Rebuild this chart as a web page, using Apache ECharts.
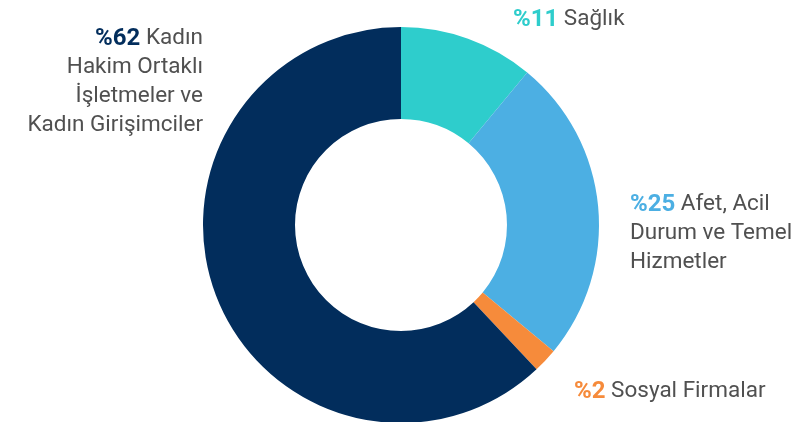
<!DOCTYPE html>
<html>
<head>
<meta charset="utf-8">
<script src="https://cdn.jsdelivr.net/npm/echarts@6/dist/echarts.min.js"></script>
<style>html,body{margin:0;padding:0;background:#fff}#c{width:810px;height:422px}</style>
</head>
<body>
<div id="c"></div>
<script>
const categories = ['Sağlık', 'Afet, Acil Durum ve Temel Hizmetler', 'Sosyal Firmalar', 'Kadın Hakim Ortaklı İşletmeler ve Kadın Girişimciler'];
const values = [11, 25, 2, 62];
const labelLines = [
  ['Sağlık'],
  ['Afet, Acil', 'Durum ve Temel', 'Hizmetler'],
  ['Sosyal Firmalar'],
  ['Kadın', 'Hakim Ortaklı', 'İşletmeler ve', 'Kadın Girişimciler']
];
const colors = ['#2ECDCC', '#4CAFE3', '#F68B3B', '#022D5C'];

// label layout (x, y, align) per slice
const labelPos = [
  {x: 513, y: 5, align: 'left'},
  {x: 630, y: 190, align: 'left'},
  {x: 574, y: 377, align: 'left'},
  {x: 203, y: 24, align: 'right'}
];

const rich = { t: {fontSize: 22.5, lineHeight: 29, color: '#505050', fontFamily: 'Roboto'} };
colors.forEach((c, i) => {
  rich['p' + i] = {fontSize: 24, lineHeight: 29, color: c, fontWeight: 'bold', fontFamily: 'Roboto'};
});

const data = categories.map((name, i) => ({
  name: name,
  value: values[i],
  itemStyle: {color: colors[i]}
}));

const chart = echarts.init(document.getElementById('c'));
chart.setOption({
  animation: false,
  series: [{
    type: 'pie',
    center: [401, 225],
    radius: [106, 198],
    startAngle: 90,
    clockwise: true,
    avoidLabelOverlap: false,
    data: data,
    labelLine: {show: false},
    label: {
      show: true,
      position: 'outside',
      rich: rich,
      formatter: function (p) {
        const lines = labelLines[p.dataIndex];
        return lines.map((l, k) => (k === 0 ? '{p' + p.dataIndex + '|%' + p.value + '}{t| ' + l + '}' : '{t|' + l + '}')).join('\n');
      }
    },
    labelLayout: function (p) {
      const lp = labelPos[p.dataIndex];
      return {x: lp.x, y: lp.y, align: lp.align, verticalAlign: 'top'};
    }
  }]
});
</script>
</body>
</html>
